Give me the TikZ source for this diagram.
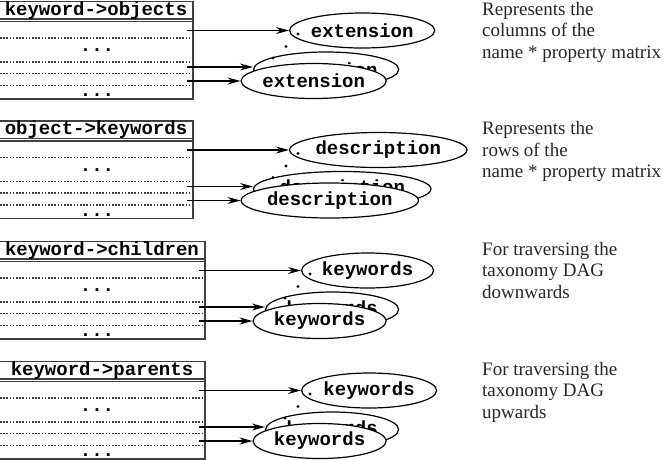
\documentclass[tikz,border=0pt]{standalone}
\usepackage{fontspec}
\setmainfont{Liberation Serif}
\setmonofont{Liberation Mono}
\usetikzlibrary{shapes.geometric,arrows.meta}
\tikzset{
  tbl/.style={draw=black!75, line width=1.3pt},
  rowline/.style={draw=black!75, line width=1.1pt, dash pattern=on 1.5pt off 1.7pt},
  lst/.style={ellipse, draw, fill=white, line width=1.2pt, inner sep=0pt, minimum height=35pt, font=\fontsize{19}{19}\ttfamily\bfseries},
  ptr/.style={-{Stealth[length=13pt,width=7pt]}, line width=1.1pt},
  hdr/.style={font=\fontsize{19}{19}\ttfamily\bfseries, inner sep=0pt},
  note/.style={font=\fontsize{19}{21.5}\selectfont, align=left, anchor=north west, inner sep=0pt, text=black!85},
  ldot/.style={circle, fill, inner sep=0pt, minimum size=3.4pt}
}
\newcommand\listblock[8]{%
  \begin{scope}[yshift=-#2pt]
    \draw[tbl] (-1,1.5) rectangle (#3,99);
    \draw[tbl] (-1,19) -- (#3,19);
    \draw[tbl] (-1,21.5) -- (#3,21.5);
    \node[hdr] (#1title) at ({(#3-1)/2},10.5) {#4};
    \foreach \yy in {38,62,73.5,85.5} \draw[rowline] (0,\yy) -- ({#3-2},\yy);
    \node[hdr, anchor=base] (#1ell1) at (97,51.5) {...};
    \node[hdr, anchor=base] (#1ell2) at (97,96.5) {...};
    \coordinate (#1s1) at ({#3-6},30.5);
    \coordinate (#1s2) at ({#3-6},67);
    \coordinate (#1s3) at ({#3-6},81);
    \node[lst, minimum width=#6pt, anchor=west] (#1mid) at ({#3+60},69.5) {#5};
    \node[ldot] (#1d3) at ({#3+80},58) {};
    \node[ldot] (#1d2) at ({#3+93},46.5) {};
    \node[lst, minimum width=#6pt, anchor=west] (#1bot) at ({#3+47.5},81) {#5};
    \node[lst, minimum width=#7pt, anchor=west] (#1top) at ({#3+96},30.5) {#5};
    \node[ldot] (#1d1) at ({#3+105},34) {};
    \draw[ptr] (#1s1) -- (#1top);
    \draw[ptr] (#1s2) -- (#1s2 -| #1mid.west);
    \draw[ptr] (#1s3) -- (#1bot);
    \node[note] (#1note) at (482,2) {#8};
  \end{scope}}
\begin{document}
\begin{tikzpicture}[x=1pt,y=-1pt]
\useasboundingbox (0,0) rectangle (663,459);
\listblock{a}{0}{193}{keyword->objects}{extension}{132}{132}{Represents the\\columns of the\\name * property matrix}
\listblock{b}{119.5}{193}{object->keywords}{description}{145}{142}{Represents the\\rows of the\\name * property matrix}
\listblock{c}{240}{205}{keyword->children}{keywords}{133}{132}{For traversing the\\taxonomy DAG\\downwards}
\listblock{d}{360}{205}{keyword->parents}{keywords}{133}{135}{For traversing the\\taxonomy DAG\\upwards}
\end{tikzpicture}
\end{document}
